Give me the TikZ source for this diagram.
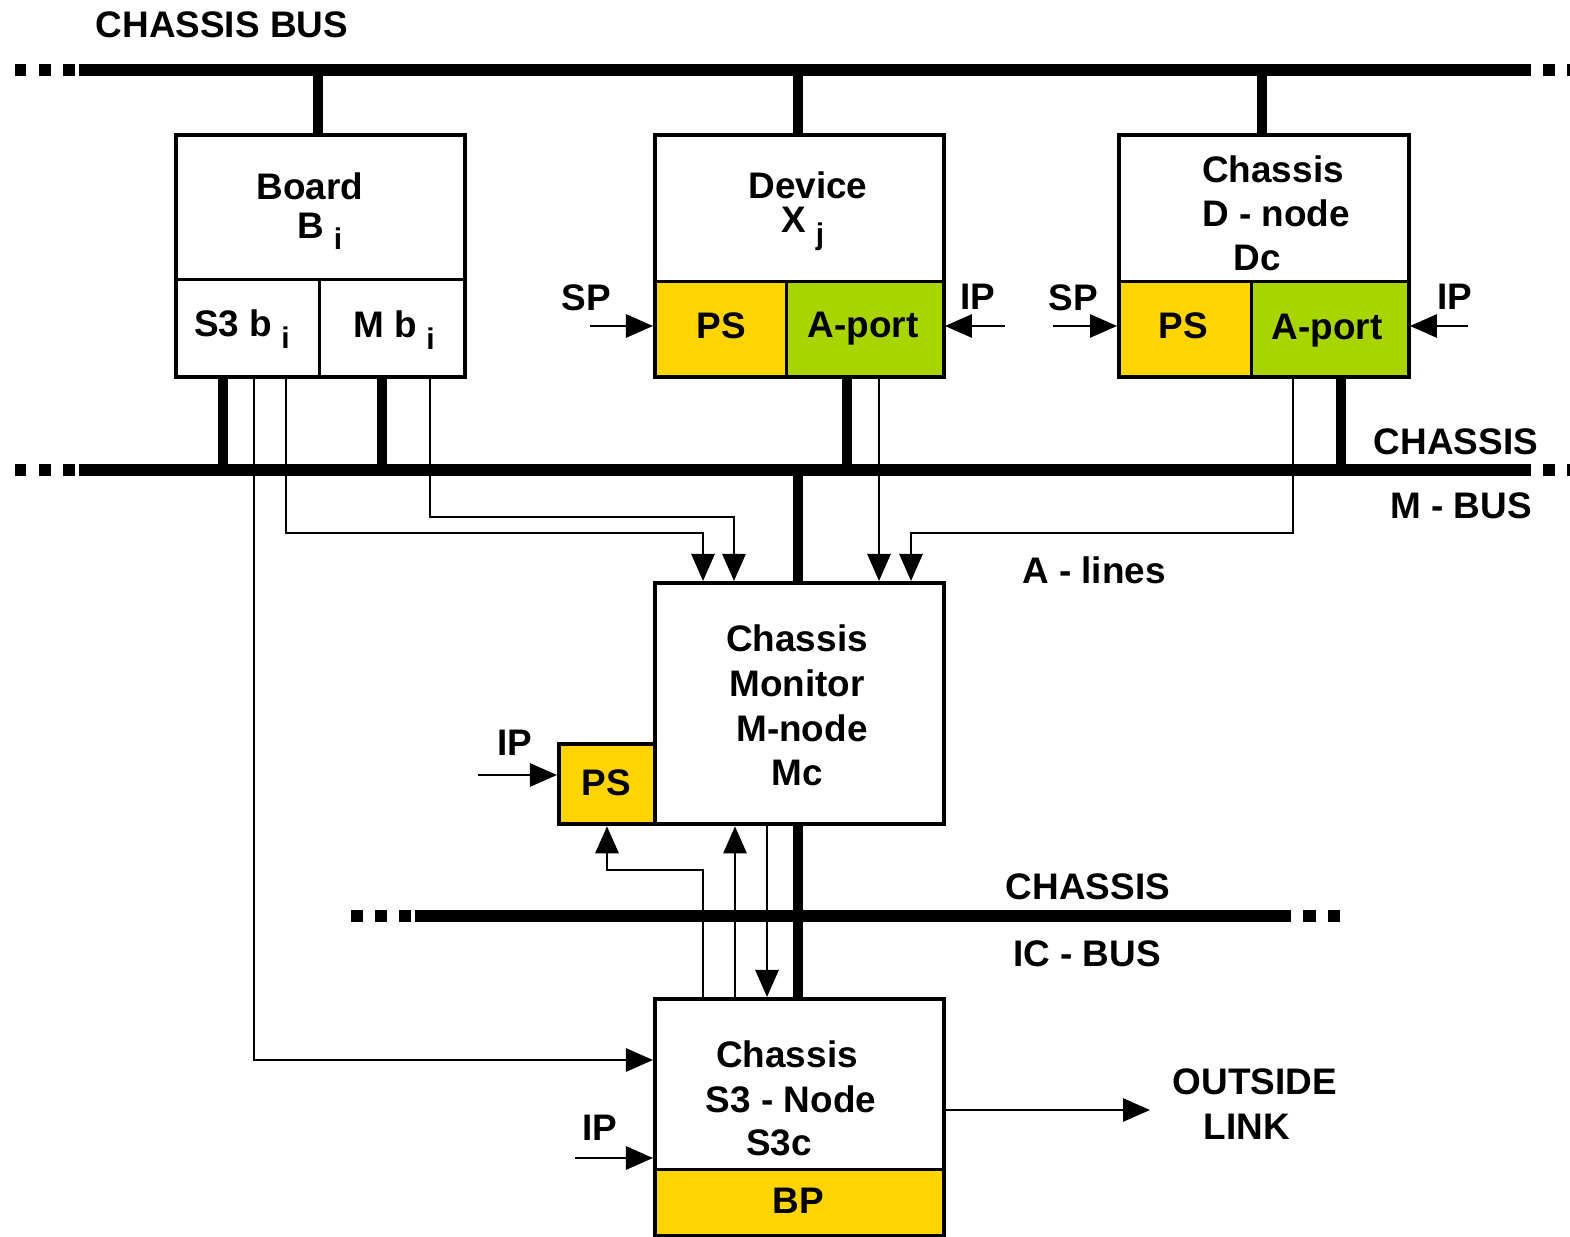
\documentclass[tikz,border=0pt]{standalone}
\usepackage{fontspec}
\setmainfont{Liberation Sans}
\usetikzlibrary{arrows.meta}
\definecolor{psyel}{RGB}{255,212,0}
\definecolor{apgrn}{RGB}{168,212,0}
\newcommand\subidx[1]{\hspace{0.25em}{\fontsize{8.5}{8.5}\selectfont\raisebox{-0.38em}{#1}}}
\begin{document}
\begin{tikzpicture}[x=0.01cm,y=-0.01cm,
  box/.style={draw, line width=1.2pt, inner sep=0pt, anchor=north west},
  sub/.style={draw, line width=0.8pt, inner sep=0pt, anchor=north west},
  busline/.style={line width=3.5pt},
  conn/.style={line width=3.1pt},
  link/.style={line width=0.8pt},
  arr/.style={line width=0.8pt, -{Triangle[length=0.27cm,width=0.23cm]}},
  lbl/.style={font=\fontsize{10.5}{12.5}\selectfont\bfseries, inner sep=0pt, align=center}]
\useasboundingbox (0,0) rectangle (1570,1237);

% ---------- buses ----------
\coordinate (cbL) at (79,70);   \coordinate (cbR) at (1531,70);
\coordinate (mbL) at (79,470);  \coordinate (mbR) at (1531,470);
\coordinate (icL) at (415,916); \coordinate (icR) at (1291,916);
\draw[busline] (cbL) -- (cbR);
\draw[busline] (mbL) -- (mbR);
\draw[busline] (icL) -- (icR);
\foreach \a/\b in {15/26,39/51,63/75,1543/1555,1567/1570}{
  \draw[busline] (\a,70) -- (\b,70);
  \draw[busline] (\a,470) -- (\b,470);}
\foreach \a/\b in {351/363,375/387,399/411,1303/1316,1328/1340}{
  \draw[busline] (\a,916) -- (\b,916);}

% ---------- Board ----------
\node[sub, minimum width=1.44cm, minimum height=0.97cm] (s3b) at (174,278) {};
\node[sub, minimum width=1.45cm, minimum height=0.97cm] (mb) at (318,278) {};
\node[box, minimum width=2.89cm, minimum height=2.42cm] (board) at (174,133) {};
\node[lbl] (tboard) at (310,186) {Board};
\node[lbl] (tbi) at (320,231) {B\subidx{i}};
\node[lbl] (ts3b) at (242,329) {S3 b\subidx{i}};
\node[lbl] (tmb) at (394,330) {M b\subidx{i}};

% ---------- Device ----------
\node[sub, fill=psyel, minimum width=1.32cm, minimum height=0.95cm] (dps) at (653,280) {};
\node[sub, fill=apgrn, minimum width=1.57cm, minimum height=0.95cm] (dap) at (785,280) {};
\node[box, minimum width=2.89cm, minimum height=2.42cm] (dev) at (653,133) {};
\node[lbl] (tdev) at (808,185) {Device};
\node[lbl] (txj) at (803,229) {X\subidx{j}};
\node[lbl] (tdps) at (721,326) {PS};
\node[lbl] (tdap) at (863,329) {A-port};
\node[lbl] (tsp1) at (586,298) {SP};
\node[lbl] (tip1) at (978,297) {IP};

% ---------- Chassis D-node ----------
\node[sub, fill=psyel, minimum width=1.33cm, minimum height=0.95cm] (cps) at (1117,280) {};
\node[sub, fill=apgrn, minimum width=1.57cm, minimum height=0.95cm] (cap) at (1250,280) {};
\node[box, minimum width=2.90cm, minimum height=2.42cm] (dnode) at (1117,133) {};
\node[lbl] (tdn1) at (1273,169) {Chassis};
\node[lbl] (tdn2) at (1276,213) {D - node};
\node[lbl] (tdn3) at (1257,258) {Dc};
\node[lbl] (tcps) at (1183,326) {PS};
\node[lbl] (tcap) at (1327,331) {A-port};
\node[lbl] (tsp2) at (1073,298) {SP};
\node[lbl] (tip2) at (1455,297) {IP};

% ---------- Monitor ----------
\node[box, minimum width=2.89cm, minimum height=2.41cm] (mon) at (653,581) {};
\node[box, fill=psyel, minimum width=0.96cm, minimum height=0.80cm] (mps) at (557,742) {};
\node[lbl] (tm1) at (797,638) {Chassis};
\node[lbl] (tm2) at (797,683) {Monitor};
\node[lbl] (tm3) at (802,728) {M-node};
\node[lbl] (tm4) at (797,773) {Mc};
\node[lbl] (tmps) at (606,783) {PS};
\node[lbl] (tip3) at (515,743) {IP};

% ---------- S3 node ----------
\node[sub, fill=psyel, minimum width=2.89cm, minimum height=0.66cm] (bp) at (653,1168) {};
\node[box, minimum width=2.89cm, minimum height=2.37cm] (s3n) at (653,997) {};
\node[lbl] (ts1) at (787,1054) {Chassis};
\node[lbl] (ts2) at (791,1099) {S3 - Node};
\node[lbl] (ts3) at (779,1143) {S3c};
\node[lbl] (tbp) at (798,1201) {BP};
\node[lbl] (tip4) at (600,1128) {IP};

% ---------- other labels ----------
\node[lbl, anchor=west] (tcb) at (95,25) {CHASSIS BUS};
\node[lbl] (tmb1) at (1456,442) {CHASSIS};
\node[lbl] (tmb2) at (1461,506) {M - BUS};
\node[lbl] (tal) at (1094,570) {A - lines};
\node[lbl] (tic1) at (1088,887) {CHASSIS};
\node[lbl] (tic2) at (1087,954) {IC - BUS};
\node[lbl] (tout) at (1255,1082) {OUTSIDE};
\node[lbl] (tlink) at (1247,1127) {LINK};

% ---------- thick connectors ----------
\draw[conn] (318,0 |- cbL) -- (318,0 |- board.north);
\draw[conn] (798,0 |- cbL) -- (798,0 |- dev.north);
\draw[conn] (1262,0 |- cbL) -- (1262,0 |- dnode.north);
\draw[conn] (223,0 |- board.south) -- (223,0 |- mbL);
\draw[conn] (382,0 |- board.south) -- (382,0 |- mbL);
\draw[conn] (847,0 |- dev.south) -- (847,0 |- mbL);
\draw[conn] (1341,0 |- dnode.south) -- (1341,0 |- mbL);
\draw[conn] (798,0 |- mbL) -- (798,0 |- mon.north);
\draw[conn] (798,0 |- mon.south) -- (798,0 |- s3n.north);

% ---------- thin connectors ----------
\draw[arr] (286,0 |- board.south) -- (286,533) -- (703,533) -- (703,0 |- mon.north);
\draw[arr] (430,0 |- board.south) -- (430,517) -- (734,517) -- (734,0 |- mon.north);
\draw[arr] (879,0 |- dev.south) -- (879,0 |- mon.north);
\draw[arr] (1293,0 |- dnode.south) -- (1293,533) -- (911,533) -- (911,0 |- mon.north);
\draw[arr] (254,0 |- board.south) -- (254,1060) -- (s3n.west |- 0,1060);
\draw[arr] (703,0 |- s3n.north) -- (703,870) -- (607,870) -- (607,0 |- mps.south);
\draw[arr] (735,0 |- s3n.north) -- (735,0 |- mon.south);
\draw[arr] (767,0 |- mon.south) -- (767,0 |- s3n.north);
\draw[arr] (s3n.east |- 0,1110) -- (1150,1110);

% ---------- power / IP inputs ----------
\draw[arr] (590,326) -- (dps.west |- 0,326);
\draw[arr] (1005,326) -- (dap.east |- 0,326);
\draw[arr] (1053,326) -- (cps.west |- 0,326);
\draw[arr] (1468,326) -- (cap.east |- 0,326);
\draw[arr] (478,775) -- (mps.west |- 0,775);
\draw[arr] (575,1158) -- (s3n.west |- 0,1158);
\end{tikzpicture}
\end{document}
